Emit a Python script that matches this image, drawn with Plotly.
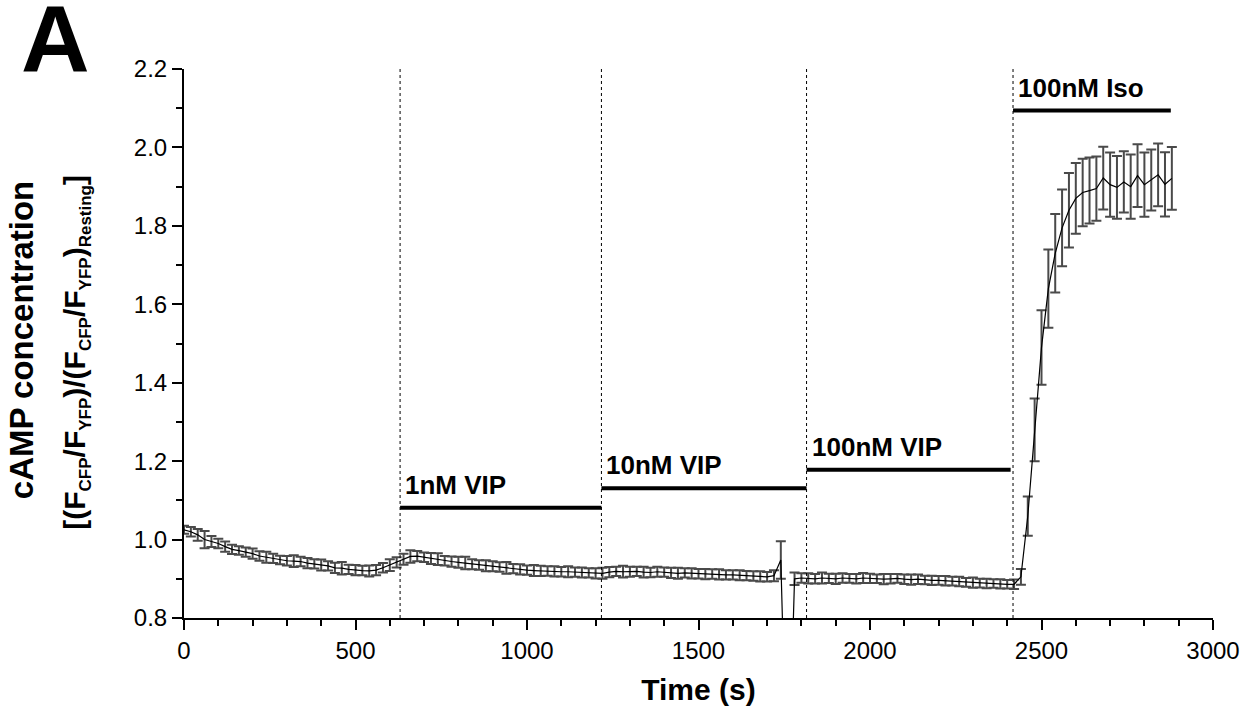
import plotly.graph_objects as go

# ---- data ----
time_s = list(range(0, 2881, 20))

ratio_mean = [
    1.025, 1.020, 1.012, 1.000, 0.995, 0.990, 0.982, 0.975, 0.972, 0.968,
    0.964, 0.958, 0.955, 0.952, 0.948, 0.946, 0.945, 0.944, 0.940, 0.938,
    0.935, 0.933, 0.928, 0.927, 0.924, 0.922, 0.921, 0.920, 0.922, 0.928,
    0.935, 0.942, 0.950, 0.957, 0.958, 0.955, 0.952, 0.950, 0.946, 0.944,
    0.942, 0.940, 0.937, 0.935, 0.933, 0.932, 0.930, 0.928, 0.926, 0.924,
    0.922, 0.921, 0.920, 0.920, 0.919, 0.918, 0.918, 0.917, 0.916, 0.915,
    0.914, 0.914, 0.917, 0.919, 0.918, 0.918, 0.919, 0.917, 0.916, 0.918,
    0.917, 0.915, 0.914, 0.915, 0.914, 0.913, 0.912, 0.912, 0.911, 0.910,
    0.910, 0.909, 0.908, 0.907, 0.906, 0.905, 0.908, 0.948, 0.300, 0.900,
    0.902, 0.901, 0.900, 0.902, 0.901, 0.900, 0.902, 0.901, 0.900, 0.902,
    0.901, 0.900, 0.899, 0.900, 0.901, 0.899, 0.898, 0.899, 0.897, 0.896,
    0.896, 0.895, 0.894, 0.893, 0.891, 0.890, 0.889, 0.888, 0.888, 0.887,
    0.886, 0.886, 0.905, 1.060, 1.280, 1.490, 1.640, 1.730, 1.795, 1.840,
    1.870, 1.885, 1.890, 1.895, 1.922, 1.905, 1.898, 1.912, 1.900, 1.928,
    1.905, 1.917, 1.930, 1.906, 1.921,
]

ratio_sem = [
    0.010, 0.012, 0.015, 0.022, 0.014, 0.012, 0.013, 0.012, 0.011, 0.012,
    0.013, 0.012, 0.014, 0.012, 0.011, 0.012, 0.015, 0.012, 0.013, 0.012,
    0.014, 0.012, 0.013, 0.016, 0.012, 0.013, 0.012, 0.014, 0.013, 0.012,
    0.015, 0.013, 0.014, 0.016, 0.013, 0.012, 0.014, 0.015, 0.012, 0.013,
    0.014, 0.016, 0.013, 0.012, 0.014, 0.013, 0.012, 0.015, 0.012, 0.013,
    0.012, 0.014, 0.013, 0.012, 0.013, 0.012, 0.014, 0.012, 0.013, 0.012,
    0.013, 0.014, 0.013, 0.012, 0.015, 0.013, 0.012, 0.014, 0.012, 0.013,
    0.012, 0.013, 0.014, 0.012, 0.013, 0.012, 0.013, 0.012, 0.013, 0.012,
    0.012, 0.013, 0.012, 0.012, 0.013, 0.012, 0.014, 0.048, 0.000, 0.016,
    0.012, 0.013, 0.012, 0.014, 0.012, 0.013, 0.012, 0.011, 0.012, 0.013,
    0.012, 0.011, 0.013, 0.012, 0.011, 0.012, 0.013, 0.012, 0.011, 0.012,
    0.011, 0.012, 0.011, 0.012, 0.011, 0.013, 0.011, 0.012, 0.011, 0.012,
    0.011, 0.012, 0.020, 0.050, 0.080, 0.095, 0.100, 0.100, 0.098, 0.095,
    0.090, 0.086, 0.084, 0.082, 0.080, 0.082, 0.080, 0.078, 0.082, 0.080,
    0.082, 0.078, 0.080, 0.082, 0.080,
]

# treatment periods
event_times = [630, 1217, 1815, 2417]
bar_labels = ["1nM VIP", "10nM VIP", "100nM VIP", "100nM Iso"]
bar_starts = [630, 1217, 1815, 2417]
bar_ends = [1217, 1815, 2410, 2877]
bar_levels = [1.081, 1.131, 1.178, 2.094]

FONT = "Liberation Sans, Arial, sans-serif"

fig = go.Figure()

fig.add_trace(go.Scatter(
    x=time_s, y=ratio_mean, mode="lines",
    line=dict(color="black", width=1.2),
    error_y=dict(type="data", array=ratio_sem, visible=True,
                 color="#4a4a4a", thickness=2, width=5),
    showlegend=False,
))

# treatment bars
for s, e, lv in zip(bar_starts, bar_ends, bar_levels):
    fig.add_trace(go.Scatter(
        x=[s, e], y=[lv, lv], mode="lines",
        line=dict(color="black", width=4), showlegend=False,
        hoverinfo="skip",
    ))

# vertical dashed lines
for t in event_times:
    fig.add_shape(type="line", xref="x", yref="paper", x0=t, x1=t, y0=0, y1=1,
                  line=dict(color="black", width=1, dash="3px,3px"))

# bar labels
for s, lv, lab in zip(bar_starts, bar_levels, bar_labels):
    fig.add_annotation(x=s, y=lv, xref="x", yref="y", text=f"<b>{lab}</b>",
                       showarrow=False, xanchor="left", yanchor="bottom",
                       xshift=3, yshift=6,
                       font=dict(family=FONT, size=26, color="black"))

# y-axis title (two lines)
fig.add_annotation(x=-0.1584, y=0.506, xref="paper", yref="paper",
                   text="<b>cAMP concentration</b>", textangle=-90,
                   showarrow=False, xanchor="center", yanchor="middle",
                   font=dict(family=FONT, size=33, color="black"))
sub = '<sub><span style="font-size:17px">{}</span></sub>'
line2 = ("<b>[(F" + sub.format("CFP") + "/F" + sub.format("YFP") + ")/(F"
         + sub.format("CFP") + "/F" + sub.format("YFP") + ")"
         + sub.format("Resting") + "]</b>")
fig.add_annotation(x=-0.1045, y=0.484, xref="paper", yref="paper",
                   text=line2, textangle=-90,
                   showarrow=False, xanchor="center", yanchor="middle",
                   font=dict(family=FONT, size=30, color="black"))

# panel letter
fig.add_annotation(x=-0.125, y=1.055, xref="paper", yref="paper",
                   text="<b>A</b>", showarrow=False,
                   xanchor="center", yanchor="middle",
                   font=dict(family=FONT, size=95, color="black"))

fig.update_layout(
    width=1251, height=715,
    margin=dict(l=184, r=38, t=69, b=97),
    paper_bgcolor="white", plot_bgcolor="white",
    font=dict(family=FONT, color="black"),
    xaxis=dict(
        range=[0, 3000], dtick=500, tick0=0,
        showline=True, linecolor="black", linewidth=2,
        ticks="outside", ticklen=10, tickwidth=2, tickcolor="black",
        minor=dict(dtick=100, ticks="outside", ticklen=6, tickwidth=1.5,
                   tickcolor="black"),
        showgrid=False, zeroline=False,
        tickfont=dict(family=FONT, size=24, color="black"),
        title=dict(text="<b>Time (s)</b>", standoff=16,
                   font=dict(family=FONT, size=30, color="black")),
    ),
    yaxis=dict(
        range=[0.8, 2.2], dtick=0.2, tick0=0.8, tickformat=".1f",
        showline=True, linecolor="black", linewidth=2,
        ticks="outside", ticklen=10, tickwidth=2, tickcolor="black",
        minor=dict(dtick=0.1, ticks="outside", ticklen=6, tickwidth=1.5,
                   tickcolor="black"),
        showgrid=False, zeroline=False,
        tickfont=dict(family=FONT, size=24, color="black"),
    ),
)

fig.write_html("out.html")
